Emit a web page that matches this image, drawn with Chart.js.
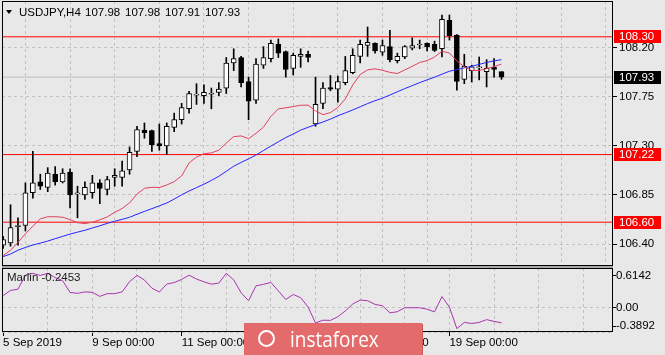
<!DOCTYPE html>
<html><head><meta charset="utf-8">
<script src="https://cdn.jsdelivr.net/npm/chart.js@4/dist/chart.umd.min.js"></script>
<style>
html,body{margin:0;padding:0;background:#e8e8e8;width:665px;height:355px;overflow:hidden;}
#wrap{position:relative;width:665px;height:355px;}
canvas{position:absolute;left:0;}
#c1{top:0;width:665px;height:268px;}
#c2{top:266px;width:665px;height:89px;}
#sep{position:absolute;left:2px;top:266px;width:611px;height:2px;background:#a8a8a8;}
.t{position:absolute;font-family:'Liberation Sans',Arial,sans-serif;font-size:11.5px;color:#000;white-space:pre;line-height:13px;}
#tri{position:absolute;left:6px;top:10px;width:0;height:0;border-left:3.5px solid transparent;border-right:3.5px solid transparent;border-top:4.5px solid #000;}
#wm{position:absolute;left:244px;top:323px;width:178px;height:32px;background:#e36b6b;box-shadow:1px 1px 0 #c85a5a;z-index:5;}
#wmtxt{position:absolute;left:46px;top:2px;font-family:'Open Sans',sans-serif;font-size:22px;color:#fff;line-height:26px;transform:scaleX(0.86);transform-origin:left top;letter-spacing:0px;}
#wmlogo{position:absolute;left:14px;top:7px;width:17px;height:17px;border:2px solid #fff;border-radius:50%;box-sizing:border-box;}
</style></head>
<body><div id="wrap">
<canvas id="c1" width="665" height="268"></canvas>
<canvas id="c2" width="665" height="89"></canvas>
<div id="sep"></div>
<div id="tri"></div>
<div id="title"></div>
<div class="t" id="ind" style="left:7px;top:271px;color:#202020"></div>
<div id="wm"><div id="wmlogo"></div><div id="wmtxt">instaforex</div></div>
</div>
<script>
// ---------- DATA ----------
const symbol = 'USDJPY,H4';
const indName = 'Marlin';
const open = [106.39,106.41,106.56,106.57,106.87,106.97,106.92,107.04,106.97,107.06,
106.86,106.85,106.87,106.96,106.90,107.01,107.01,107.08,107.25,107.445,
107.44,107.32,107.30,107.47,107.54,107.64,107.765,107.76,107.775,107.79,
107.83,108.06,108.11,107.89,107.72,108.04,108.10,108.23,108.165,108.01,
108.12,108.14,107.50,107.69,107.835,107.82,107.88,107.97,108.12,108.22,
108.24,108.16,108.21,108.08,108.115,108.195,108.225,108.24,108.23,108.19,
108.45,108.315,107.91,107.99,108.015,107.98,108.02,107.98];
const high = [106.47,106.76,106.64,106.96,107.25,107.04,107.10,107.11,107.09,107.09,
106.93,106.97,107.03,106.99,107.02,107.09,107.16,107.29,107.48,107.51,
107.445,107.50,107.51,107.60,107.69,107.80,107.87,107.86,107.83,107.88,
108.11,108.19,108.12,107.93,108.10,108.21,108.27,108.28,108.17,108.15,
108.19,108.17,107.93,107.88,107.945,107.94,108.12,108.19,108.27,108.39,
108.245,108.27,108.36,108.15,108.22,108.29,108.27,108.245,108.26,108.50,
108.50,108.32,108.14,108.04,108.115,108.09,108.10,107.98];
const low = [106.36,106.38,106.39,106.52,106.82,106.90,106.88,106.94,106.96,106.73,
106.64,106.81,106.82,106.77,106.85,106.93,106.93,107.04,107.20,107.37,
107.25,107.26,107.22,107.43,107.50,107.60,107.68,107.69,107.64,107.76,
107.78,107.99,107.84,107.54,107.69,108.01,108.07,108.11,107.93,107.95,
108.02,108.07,107.48,107.64,107.805,107.70,107.86,107.96,108.06,108.12,
108.15,108.13,108.07,108.06,108.10,108.18,108.19,108.17,108.165,108.115,
108.27,107.81,107.87,107.885,107.905,107.84,107.93,107.91];
const close = [106.44,106.55,106.57,106.87,106.96,106.93,107.05,106.97,107.05,106.85,
106.865,106.92,106.96,106.91,106.99,107.03,107.07,107.24,107.45,107.42,
107.31,107.30,107.48,107.54,107.65,107.78,107.775,107.79,107.785,107.82,
108.06,108.10,107.88,107.71,108.05,108.11,108.24,108.15,108.00,108.13,
108.14,108.11,107.68,107.83,107.82,107.89,107.99,108.13,108.23,108.25,
108.17,108.22,108.09,108.12,108.21,108.22,108.23,108.21,108.175,108.46,
108.31,107.89,108.03,108.025,108.025,108.01,108.00,107.93];
const maFast = [106.294,106.342,106.415,106.494,106.562,106.630,106.650,106.650,106.646,106.623,
106.596,106.587,106.600,106.622,106.649,106.690,106.726,106.777,106.857,106.911,
106.920,106.918,106.941,106.972,107.024,107.143,107.198,107.227,107.236,107.260,
107.326,107.385,107.391,107.366,107.415,107.472,107.570,107.639,107.649,107.660,
107.673,107.673,107.621,107.586,107.605,107.652,107.730,107.858,107.954,107.997,
108.006,107.993,107.974,107.963,107.996,108.029,108.064,108.082,108.114,108.168,
108.151,108.079,108.026,107.991,107.991,108.008,108.026,108.050];
const maSlow = [106.285,106.308,106.343,106.369,106.391,106.408,106.427,106.449,106.470,106.491,
106.509,106.526,106.547,106.567,106.589,106.609,106.626,106.645,106.673,106.699,
106.724,106.750,106.776,106.812,106.851,106.886,106.917,106.948,106.983,107.021,
107.067,107.113,107.148,107.181,107.216,107.257,107.298,107.337,107.376,107.409,
107.444,107.470,107.495,107.519,107.545,107.576,107.602,107.629,107.658,107.688,
107.714,107.738,107.766,107.796,107.825,107.852,107.880,107.905,107.930,107.957,
107.984,107.999,108.015,108.030,108.047,108.065,108.079,108.090];
const marlin = [0.182,0.263,0.282,0.503,0.530,0.498,0.530,0.464,0.416,0.231,
0.217,0.239,0.234,0.169,0.212,0.212,0.239,0.400,0.498,0.426,
0.299,0.237,0.362,0.386,0.435,0.502,0.441,0.397,0.361,0.378,
0.530,0.429,0.225,0.101,0.335,0.358,0.388,0.256,0.120,0.199,
0.149,0.003,-0.248,-0.204,-0.207,-0.150,-0.059,0.049,0.112,0.101,
0.044,0.022,-0.089,-0.071,-0.009,-0.009,-0.009,-0.032,-0.073,0.166,
0.002,-0.337,-0.239,-0.256,-0.239,-0.195,-0.223,-0.2453];
const levels = [108.30, 107.22, 106.60];
const priceTicks = [108.20, 107.75, 107.30, 106.85, 106.40];
const indTicks = [0.6142, 0.00, -0.3892];
const timeLabelIdx = [0, 12, 24, 36, 48, 60];
const timeLabels = ['5 Sep 2019', '9 Sep 00:00', '11 Sep 00:00', '13 Sep 00:00', '17 Sep 00:00', '19 Sep 00:00'];

// ---------- SETUP ----------
const N = close.length;
const bid = close[N - 1];
const X0 = -0.148, X1 = 81.99;
const Y_MAX = 108.6282, Y_MIN = 106.1984;
const gridIdx = []; for (let k = 6; k < X1; k += 6) gridIdx.push(k);
const FONT = "'Liberation Sans', Arial, sans-serif";
const gridColor = '#c2c2c2';
Chart.defaults.font.family = FONT;
Chart.defaults.font.size = 11.5;
Chart.defaults.color = '#000';

const pts = a => a.map((v, i) => ({x: i, y: v}));

const frame = {
  id: 'frame',
  afterDraw(chart) {
    const {ctx, chartArea: a} = chart;
    ctx.save(); ctx.strokeStyle = '#000'; ctx.lineWidth = 1;
    ctx.strokeRect(a.left + 0.5, a.top + 0.5, a.right - a.left - 1, a.bottom - a.top - 1);
    ctx.restore();
  }
};
const levelTags = {
  id: 'levelTags',
  afterDraw(chart) {
    const ys = chart.scales.y, ctx = chart.ctx, a = chart.chartArea;
    ctx.save(); ctx.font = '11.5px ' + FONT; ctx.textBaseline = 'middle';
    const tags = levels.map(v => ({v, bg: '#ff0000'})).concat([{v: bid, bg: '#000000'}]);
    tags.forEach(t => {
      const y = ys.getPixelForValue(t.v);
      ctx.fillStyle = t.bg; ctx.fillRect(a.right + 1, Math.round(y - 6.5), 47, 13);
      ctx.fillStyle = '#fff'; ctx.fillText(t.v.toFixed(2), a.right + 6, y + 0.5);
    });
    ctx.restore();
  }
};
const indLabels = {
  id: 'indLabels',
  afterDraw(chart) {
    const ys = chart.scales.y, ctx = chart.ctx, a = chart.chartArea;
    ctx.save(); ctx.font = '11.5px ' + FONT; ctx.textBaseline = 'middle'; ctx.fillStyle = '#000';
    indTicks.forEach(v => {
      let y = ys.getPixelForValue(v);
      y = Math.min(Math.max(y, a.top + 7.3), a.bottom - 6.3);
      ctx.fillRect(a.right, Math.round(y), 3, 1);
      ctx.fillText(v === 0 ? '0.00' : v.toFixed(4), a.right + 3, y + 0.5);
    });
    ctx.restore();
  }
};

const common = {
  responsive: false, animation: false, devicePixelRatio: 1, events: [],
  plugins: {legend: {display: false}, tooltip: {enabled: false}}
};

// ---------- MAIN CHART ----------
new Chart(document.getElementById('c1'), {
  type: 'bar',
  data: {
    datasets: [
      {type: 'line', data: pts(maFast), borderColor: '#e2405c', borderWidth: 1, pointRadius: 0, tension: 0, order: 0},
      {type: 'line', data: pts(maSlow), borderColor: '#2424ff', borderWidth: 1, pointRadius: 0, tension: 0, order: 0},
      {type: 'bar', data: open.map((o, i) => ({x: i, y: [o, close[i]]})), barThickness: 5, grouped: false,
       backgroundColor: open.map((o, i) => close[i] >= o ? '#ffffff' : '#000000'),
       borderColor: '#000', borderWidth: 1, borderSkipped: false, minBarLength: 1, order: 1},
      {type: 'bar', data: low.map((l, i) => ({x: i, y: [l, high[i]]})), barThickness: 1, grouped: false,
       backgroundColor: '#000', borderWidth: 0, order: 2},
      ...levels.map(v => ({type: 'line', data: [{x: X0, y: v}, {x: X1, y: v}], borderColor: '#ff0000', borderWidth: 1, pointRadius: 0, order: 3})),
      {type: 'line', data: [{x: X0, y: bid}, {x: X1, y: bid}], borderColor: '#bdbdbd', borderWidth: 1, pointRadius: 0, order: 4}
    ]
  },
  options: Object.assign({}, common, {
    layout: {padding: {left: 2, top: 1, right: 0, bottom: 2}},
    scales: {
      x: {type: 'linear', min: X0, max: X1, offset: false,
          afterBuildTicks: s => { s.ticks = gridIdx.map(v => ({value: v})); },
          ticks: {display: false}, grid: {color: gridColor, drawTicks: false, borderDash: [3, 3]},
          border: {display: false, dash: [3, 3]},
          afterFit: s => { s.height = 0; s.paddingLeft = 0; s.paddingRight = 0; }},
      y: {type: 'linear', position: 'right', min: Y_MIN, max: Y_MAX,
          afterBuildTicks: s => { s.ticks = priceTicks.map(v => ({value: v})); },
          ticks: {padding: 2, autoSkip: false, callback: v => Number(v).toFixed(2)},
          grid: {color: gridColor, tickColor: '#000', tickLength: 4, tickBorderDash: [], borderDash: [3, 3]},
          border: {display: false, dash: [3, 3]},
          afterFit: s => { s.width = 52; s.paddingTop = 0; s.paddingBottom = 0; }}
    }
  }),
  plugins: [frame, levelTags]
});

// ---------- INDICATOR CHART ----------
new Chart(document.getElementById('c2'), {
  type: 'line',
  data: {datasets: [{data: pts(marlin), borderColor: '#a834b0', borderWidth: 1, pointRadius: 0, tension: 0}]},
  options: Object.assign({}, common, {
    layout: {padding: {left: 2, top: 2, right: 0, bottom: 0}},
    scales: {
      x: {type: 'linear', min: X0, max: X1, offset: false,
          afterBuildTicks: s => { const t = [0].concat(gridIdx); s.ticks = t.map(v => ({value: v})); },
          ticks: {autoSkip: false, maxRotation: 0, minRotation: 0, align: 'start', padding: 0,
                  callback: v => { const k = timeLabelIdx.indexOf(Math.round(v)); return k >= 0 ? timeLabels[k] : ''; }},
          grid: {tickLength: 4, tickBorderDash: [], borderDash: [3, 3],
                 color: c => (c.tick && c.tick.value === 0) ? 'rgba(0,0,0,0)' : gridColor,
                 tickColor: c => (c.tick && timeLabelIdx.includes(Math.round(c.tick.value))) ? '#000' : 'rgba(0,0,0,0)'},
          border: {display: false, dash: [3, 3]},
          afterFit: s => { s.height = 23; s.paddingLeft = 0; s.paddingRight = 0; }},
      y: {type: 'linear', position: 'right', min: indTicks[2], max: indTicks[0],
          afterBuildTicks: s => { s.ticks = indTicks.map(v => ({value: v})); },
          ticks: {display: false},
          grid: {color: gridColor, drawTicks: false, borderDash: [3, 3]},
          border: {display: false, dash: [3, 3]},
          afterFit: s => { s.width = 52; s.paddingTop = 0; s.paddingBottom = 0; }}
    }
  }),
  plugins: [frame, indLabels]
});

// ---------- TEXT OVERLAYS ----------
const title = document.getElementById('title');
const parts = [symbol, open[N-1].toFixed(2), high[N-1].toFixed(2), low[N-1].toFixed(2), close[N-1].toFixed(2)];
const xs = [19, 85, 125, 165, 205];
parts.forEach((p, i) => {
  const d = document.createElement('div');
  d.className = 't'; d.style.left = xs[i] + 'px'; d.style.top = '6px'; d.textContent = p;
  title.appendChild(d);
});
document.getElementById('ind').textContent = indName + ' ' + marlin[N-1].toFixed(4);
</script>
</body></html>
